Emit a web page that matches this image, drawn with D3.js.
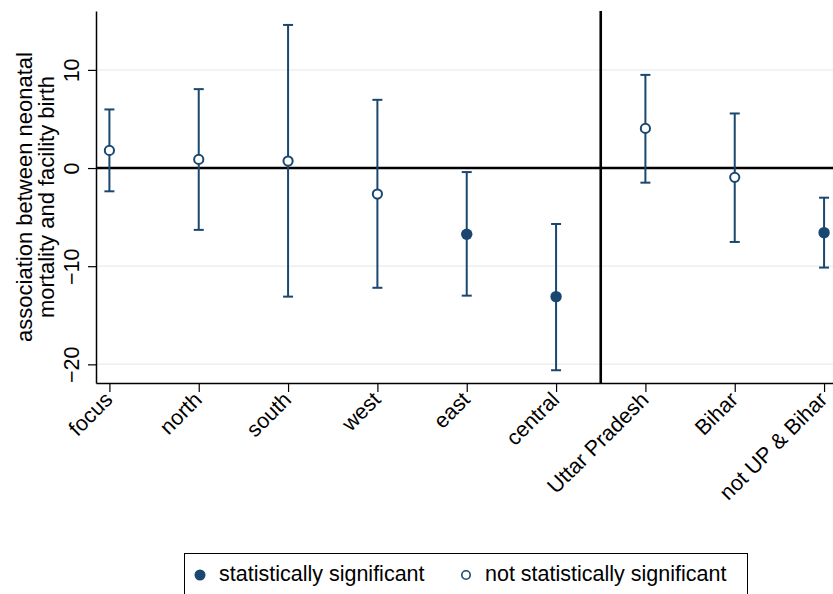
<!DOCTYPE html>
<html>
<head>
<meta charset="utf-8">
<script src="https://cdn.jsdelivr.net/npm/d3@7"></script>
<style>
  body { margin: 0; background: #fff; }
  svg { display: block; font-family: "Liberation Sans", Arial, sans-serif; }
</style>
</head>
<body>
<div id="chart"></div>
<script>
const regions = ["focus", "north", "south", "west", "east", "central", "Uttar Pradesh", "Bihar", "not UP & Bihar"];
const estimates = [1.8, 0.88, 0.71, -2.65, -6.75, -13.1, 4.04, -0.95, -6.58];
const lowerCI = [-2.37, -6.3, -13.1, -12.2, -13.0, -20.6, -1.49, -7.53, -10.14];
const upperCI = [5.97, 8.04, 14.58, 6.95, -0.41, -5.7, 9.49, 5.56, -3.02];
const significant = [false, false, false, false, true, true, false, false, true];
const yTicks = [-20, -10, 0, 10];
const legendLabels = ["statistically significant", "not statistically significant"];

const width = 833, height = 594;
const plot = { left: 96, right: 833, top: 11, bottom: 383 };
const navy = "#1a476f";
const fontSize = "21.5px";

const data = regions.map((r, i) => ({
  region: r, est: estimates[i], lo: lowerCI[i], hi: upperCI[i], sig: significant[i], i: i
}));

const svg = d3.select("#chart").append("svg")
  .attr("width", width)
  .attr("height", height);

const x = d3.scaleLinear().domain([-0.15, 8.1]).range([plot.left, plot.right]);
const y = d3.scaleLinear().domain([-21.9, 16]).range([plot.bottom, plot.top]);

// gridlines
svg.append("g").selectAll("line")
  .data(yTicks.filter(d => d !== 0))
  .enter().append("line")
  .attr("x1", plot.left).attr("x2", plot.right)
  .attr("y1", d => y(d)).attr("y2", d => y(d))
  .attr("stroke", "#eaf0f3")
  .attr("stroke-width", 1.5);

// y axis
const yAxis = svg.append("g")
  .attr("transform", `translate(${plot.left},0)`)
  .call(d3.axisLeft(y).tickValues(yTicks).tickSize(8).tickSizeOuter(0).tickFormat(d3.format("d")));
yAxis.select(".domain").attr("stroke", "#000").attr("stroke-width", 1.5);
yAxis.selectAll(".tick line").attr("stroke", "#000").attr("stroke-width", 1.2);
yAxis.selectAll(".tick text")
  .attr("x", 0).attr("y", 0)
  .attr("transform", "translate(-17,0) rotate(-90)")
  .attr("text-anchor", "middle")
  .attr("dy", "0")
  .style("font-size", fontSize)
  .attr("fill", "#000");

// x axis
const xAxis = svg.append("g")
  .attr("transform", `translate(0,${plot.bottom})`)
  .call(d3.axisBottom(x).tickValues(d3.range(regions.length)).tickSize(9).tickSizeOuter(0)
    .tickFormat(i => regions[i]));
xAxis.select(".domain").attr("stroke", "#000").attr("stroke-width", 1.5);
xAxis.selectAll(".tick line").attr("stroke", "#000").attr("stroke-width", 1.2);
xAxis.selectAll(".tick text")
  .attr("x", 0).attr("y", 0).attr("dy", "0")
  .attr("transform", "translate(4,18) rotate(-45)")
  .attr("text-anchor", "end")
  .style("font-size", fontSize)
  .attr("fill", "#000");

// y axis title
svg.append("text")
  .attr("transform", "translate(32,197) rotate(-90)")
  .attr("text-anchor", "middle")
  .style("font-size", "22px")
  .selectAll("tspan")
  .data(["association between neonatal", "mortality and facility birth"])
  .enter().append("tspan")
  .attr("x", 0)
  .attr("dy", (d, i) => i === 0 ? 0 : "1.0em")
  .text(d => d);

// zero line and divider
svg.append("line")
  .attr("x1", plot.left).attr("x2", plot.right)
  .attr("y1", y(0)).attr("y2", y(0))
  .attr("stroke", "#000").attr("stroke-width", 2.6);
svg.append("line")
  .attr("x1", x(5.5)).attr("x2", x(5.5))
  .attr("y1", plot.top).attr("y2", plot.bottom)
  .attr("stroke", "#000").attr("stroke-width", 2.6);

// error bars
const bars = svg.append("g").selectAll("g")
  .data(data).enter().append("g")
  .attr("stroke", navy).attr("stroke-width", 2);
bars.append("line")
  .attr("x1", d => x(d.i)).attr("x2", d => x(d.i))
  .attr("y1", d => y(d.lo)).attr("y2", d => y(d.hi));
bars.append("line")
  .attr("x1", d => x(d.i) - 5).attr("x2", d => x(d.i) + 5)
  .attr("y1", d => y(d.lo)).attr("y2", d => y(d.lo));
bars.append("line")
  .attr("x1", d => x(d.i) - 5).attr("x2", d => x(d.i) + 5)
  .attr("y1", d => y(d.hi)).attr("y2", d => y(d.hi));

// points
svg.append("g").selectAll("circle")
  .data(data).enter().append("circle")
  .attr("cx", d => x(d.i))
  .attr("cy", d => y(d.est))
  .attr("r", d => d.sig ? 5.7 : 4.6)
  .attr("fill", d => d.sig ? navy : "#fff")
  .attr("stroke", navy)
  .attr("stroke-width", d => d.sig ? 0 : 2);

// legend
const legend = svg.append("g");
legend.append("rect")
  .attr("x", 184.5).attr("y", 553.5)
  .attr("width", 563).attr("height", 50)
  .attr("fill", "#fff").attr("stroke", "#000").attr("stroke-width", 1);
const legendX = [200, 466];
legendLabels.forEach((label, i) => {
  legend.append("circle")
    .attr("cx", legendX[i]).attr("cy", 575)
    .attr("r", i === 0 ? 5.5 : 4.2)
    .attr("fill", i === 0 ? navy : "#fff")
    .attr("stroke", navy)
    .attr("stroke-width", i === 0 ? 0 : 1.6);
  legend.append("text")
    .attr("x", legendX[i] + 19).attr("y", 581)
    .style("font-size", fontSize)
    .text(label);
});
</script>
</body>
</html>
